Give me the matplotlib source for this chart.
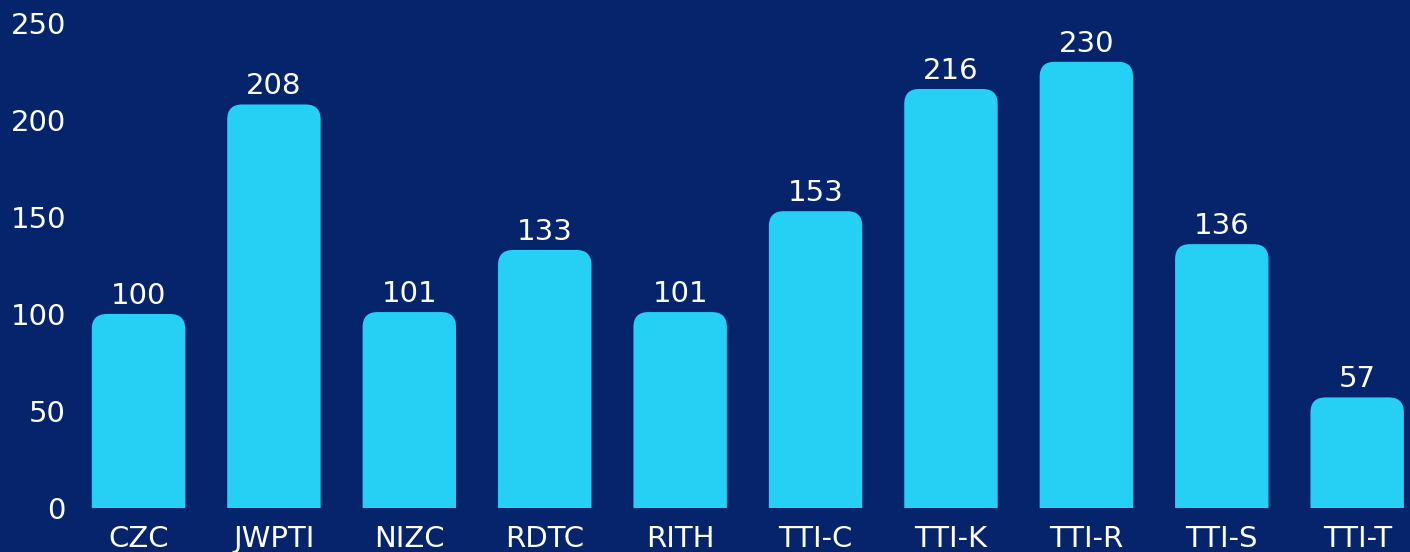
import matplotlib.pyplot as plt
from matplotlib.path import Path
from matplotlib.patches import PathPatch

categories = ["CZC", "JWPTI", "NIZC", "RDTC", "RITH", "TTI-C", "TTI-K", "TTI-R", "TTI-S", "TTI-T"]
values = [100, 208, 101, 133, 101, 153, 216, 230, 136, 57]
yticks = [0, 50, 100, 150, 200, 250]

bg = "#05246c"
bar_col = "#26cff4"

plt.rcParams['font.family'] = ['DejaVu Sans']

fig = plt.figure(figsize=(14.1, 5.52), dpi=100, facecolor=bg)
ax = fig.add_axes([70 / 1410, 44 / 552, 1340 / 1410, 485 / 552])
ax.set_facecolor(bg)

bars = ax.bar(range(len(categories)), values, width=0.69, color=bar_col)
ax.set_xlim(-0.506, 9.39)
ax.set_ylim(0, 250)

# swap the square bars for ones with rounded top corners
rx = 15 / 135.4
ry = 15 / 1.94
for b in bars:
    x0, w, h = b.get_x(), b.get_width(), b.get_height()
    x1 = x0 + w
    verts = [(x0, 0), (x0, h - ry), (x0, h), (x0 + rx, h),
             (x1 - rx, h), (x1, h), (x1, h - ry), (x1, 0), (x0, 0)]
    codes = [Path.MOVETO, Path.LINETO, Path.CURVE3, Path.CURVE3,
             Path.LINETO, Path.CURVE3, Path.CURVE3, Path.LINETO, Path.CLOSEPOLY]
    ax.add_patch(PathPatch(Path(verts, codes), facecolor=bar_col, edgecolor='none'))
    b.set_visible(False)
    ax.annotate(f"{h:g}", (x0 + w / 2, h), xytext=(0, 3), textcoords="offset points",
                ha="center", va="bottom", color="white", fontsize=21)

ax.set_xticks(range(len(categories)))
ax.set_xticklabels(categories)
ax.set_yticks(yticks)
ax.tick_params(axis='both', length=0, colors='white', labelsize=21)
ax.tick_params(axis='x', pad=12)
ax.tick_params(axis='y', pad=3)
for s in ax.spines.values():
    s.set_visible(False)

fig.savefig("out.png", dpi=100, facecolor=bg)
